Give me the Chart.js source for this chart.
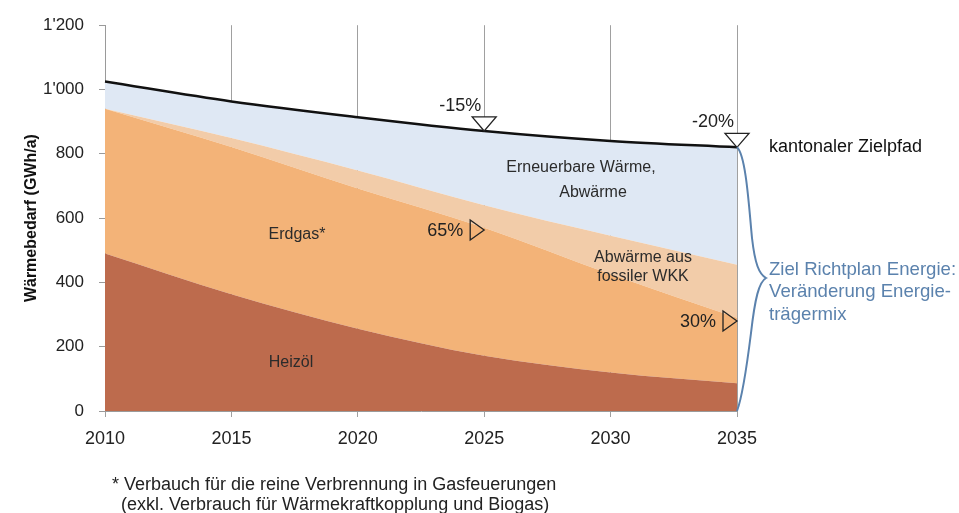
<!DOCTYPE html>
<html>
<head>
<meta charset="utf-8">
<script src="https://cdn.jsdelivr.net/npm/chart.js@4/dist/chart.umd.min.js"></script>
<style>
  html, body { margin: 0; padding: 0; background: #fff; }
  #chart { display: block; }
</style>
</head>
<body>
<canvas id="chart" width="959" height="513"></canvas>
<script>
// years on the x axis
const years = ['2010', '2015', '2020', '2025', '2030', '2035'];

// heat demand per energy carrier (GWh/a), stacked from bottom to top
const heizoel = [490, 363, 256, 172, 120, 86];
const erdgas = [450, 458, 436, 398, 305, 204];
const abwaermeWkk = [0, 28, 56, 70, 120, 165];
const erneuerbar = [85, 114, 166, 231, 295, 365];

// cantonal target path (total demand)
const zielpfad = [1025, 963, 914, 871, 840, 820];

// y tick labels
const yTicks = [0, 200, 400, 600, 800, 1000, 1200];

// markers: [year, value, label]
const downMarkers = [['2025', 871, '-15%'], ['2035', 820, '-20%']];
const rightMarkers = [['2025', 563, '65%'], ['2035', 280, '30%']];

const fontFamily = '"Liberation Sans", Arial, sans-serif';

function formatThousands(v) {
  return String(v).replace(/\B(?=(\d{3})+(?!\d))/g, "'");
}

// draws the annotations, markers, brace and footnote
const annotationPlugin = {
  id: 'annotations',
  afterDraw(chart) {
    const ctx = chart.ctx;
    const x = chart.scales.x;
    const y = chart.scales.y;
    ctx.save();

    // downward triangles on the target path
    ctx.strokeStyle = '#222';
    ctx.lineWidth = 1.3;
    ctx.font = '18px ' + fontFamily;
    downMarkers.forEach(([yr, val, label]) => {
      const px = x.getPixelForValue(years.indexOf(yr));
      const py = y.getPixelForValue(val);
      ctx.fillStyle = '#fff';
      ctx.beginPath();
      ctx.moveTo(px, py);
      ctx.lineTo(px - 12, py - 14);
      ctx.lineTo(px + 12, py - 14);
      ctx.closePath();
      ctx.fill();
      ctx.stroke();
      ctx.fillStyle = '#222';
      ctx.textAlign = 'right';
      ctx.textBaseline = 'middle';
      ctx.fillText(label, px - 3, py - 25);
    });

    // right-pointing triangles for shares
    rightMarkers.forEach(([yr, val, label]) => {
      const px = x.getPixelForValue(years.indexOf(yr));
      const py = y.getPixelForValue(val);
      ctx.beginPath();
      ctx.moveTo(px, py);
      ctx.lineTo(px - 14, py - 10);
      ctx.lineTo(px - 14, py + 10);
      ctx.closePath();
      ctx.stroke();
      ctx.textAlign = 'right';
      ctx.textBaseline = 'middle';
      ctx.fillText(label, px - 21, py + 1);
    });

    // area labels
    ctx.fillStyle = '#2b2b2b';
    ctx.font = '16px ' + fontFamily;
    ctx.textAlign = 'center';
    ctx.textBaseline = 'middle';
    ctx.fillText('Erneuerbare Wärme,', 581, 168);
    ctx.fillText('Abwärme', 593, 193);
    ctx.fillText('Abwärme aus', 643, 258);
    ctx.fillText('fossiler WKK', 643, 277);
    ctx.fillText('Erdgas*', 297, 235);
    ctx.fillText('Heizöl', 291, 363);

    // target path label
    ctx.fillStyle = '#111';
    ctx.font = '18px ' + fontFamily;
    ctx.textAlign = 'left';
    ctx.fillText('kantonaler Zielpfad', 769, 147);

    // brace for the energy carrier mix
    const bx = x.getPixelForValue(years.length - 1);
    const top = y.getPixelForValue(zielpfad[zielpfad.length - 1]);
    const bottom = y.getPixelForValue(0);
    const tipY = 278;
    ctx.strokeStyle = '#5b82ad';
    ctx.lineWidth = 2;
    ctx.beginPath();
    ctx.moveTo(bx, top);
    ctx.bezierCurveTo(bx + 9, top + 8, bx + 12, top + 60, bx + 15, tipY - 40);
    ctx.bezierCurveTo(bx + 18, tipY - 14, bx + 22, tipY - 4, bx + 29, tipY);
    ctx.bezierCurveTo(bx + 22, tipY + 4, bx + 18, tipY + 20, bx + 14, tipY + 55);
    ctx.bezierCurveTo(bx + 9, tipY + 95, bx + 5, tipY + 120, bx, bottom);
    ctx.stroke();

    ctx.fillStyle = '#5b82ad';
    ctx.font = '18.6px ' + fontFamily;
    ctx.fillText('Ziel Richtplan Energie:', 769, 270);
    ctx.fillText('Veränderung Energie-', 769, 292);
    ctx.fillText('trägermix', 769, 315);

    // footnote
    ctx.fillStyle = '#222';
    ctx.font = '18px ' + fontFamily;
    ctx.fillText('* Verbauch für die reine Verbrennung in Gasfeuerungen', 112, 485);
    ctx.fillText('(exkl. Verbrauch für Wärmekraftkopplung und Biogas)', 121, 505);

    ctx.restore();
  }
};

const areaStyle = (color) => ({
  backgroundColor: color,
  borderWidth: 0,
  pointRadius: 0,
  cubicInterpolationMode: 'monotone',
  stack: 'mix'
});

new Chart(document.getElementById('chart'), {
  type: 'line',
  data: {
    labels: years,
    datasets: [
      {
        label: 'kantonaler Zielpfad',
        data: zielpfad,
        borderColor: '#111',
        borderWidth: 2.5,
        pointRadius: 0,
        fill: false,
        cubicInterpolationMode: 'monotone',
        stack: 'total'
      },
      { label: 'Heizöl', data: heizoel, fill: 'origin', ...areaStyle('#bd6b4d') },
      { label: 'Erdgas', data: erdgas, fill: '-1', ...areaStyle('#f3b378') },
      { label: 'Abwärme aus fossiler WKK', data: abwaermeWkk, fill: '-1', ...areaStyle('#f2cca9') },
      { label: 'Erneuerbare Wärme, Abwärme', data: erneuerbar, fill: '-1', ...areaStyle('#dfe8f4') }
    ]
  },
  options: {
    responsive: false,
    animation: false,
    layout: { padding: { left: 22, right: 222, top: 19, bottom: 0 } },
    plugins: {
      legend: { display: false },
      tooltip: { enabled: false }
    },
    scales: {
      x: {
        offset: false,
        z: 1,
        grid: {
          color: 'rgba(120,120,120,0.7)',
          lineWidth: 1,
          drawOnChartArea: true,
          tickLength: 6
        },
        border: { color: '#9a9a9a' },
        ticks: {
          color: '#222',
          font: { family: fontFamily, size: 18 },
          padding: 11,
          maxRotation: 0
        },
        afterFit(scale) { scale.height = 102; }
      },
      y: {
        stacked: true,
        min: 0,
        max: 1200,
        z: 1,
        grid: {
          drawOnChartArea: false,
          color: '#9a9a9a',
          tickLength: 6
        },
        border: { color: '#9a9a9a' },
        afterBuildTicks(scale) {
          scale.ticks = yTicks.map(v => ({ value: v }));
        },
        ticks: {
          color: '#222',
          font: { family: fontFamily, size: 17 },
          padding: 15,
          callback: (v) => formatThousands(v)
        },
        title: {
          display: true,
          text: 'Wärmebedarf (GWh/a)',
          color: '#111',
          font: { family: fontFamily, size: 16, weight: 'bold' },
          padding: { top: 0, bottom: 0 }
        },
        afterFit(scale) { scale.width = 83; }
      }
    }
  },
  plugins: [annotationPlugin]
});
</script>
</body>
</html>
